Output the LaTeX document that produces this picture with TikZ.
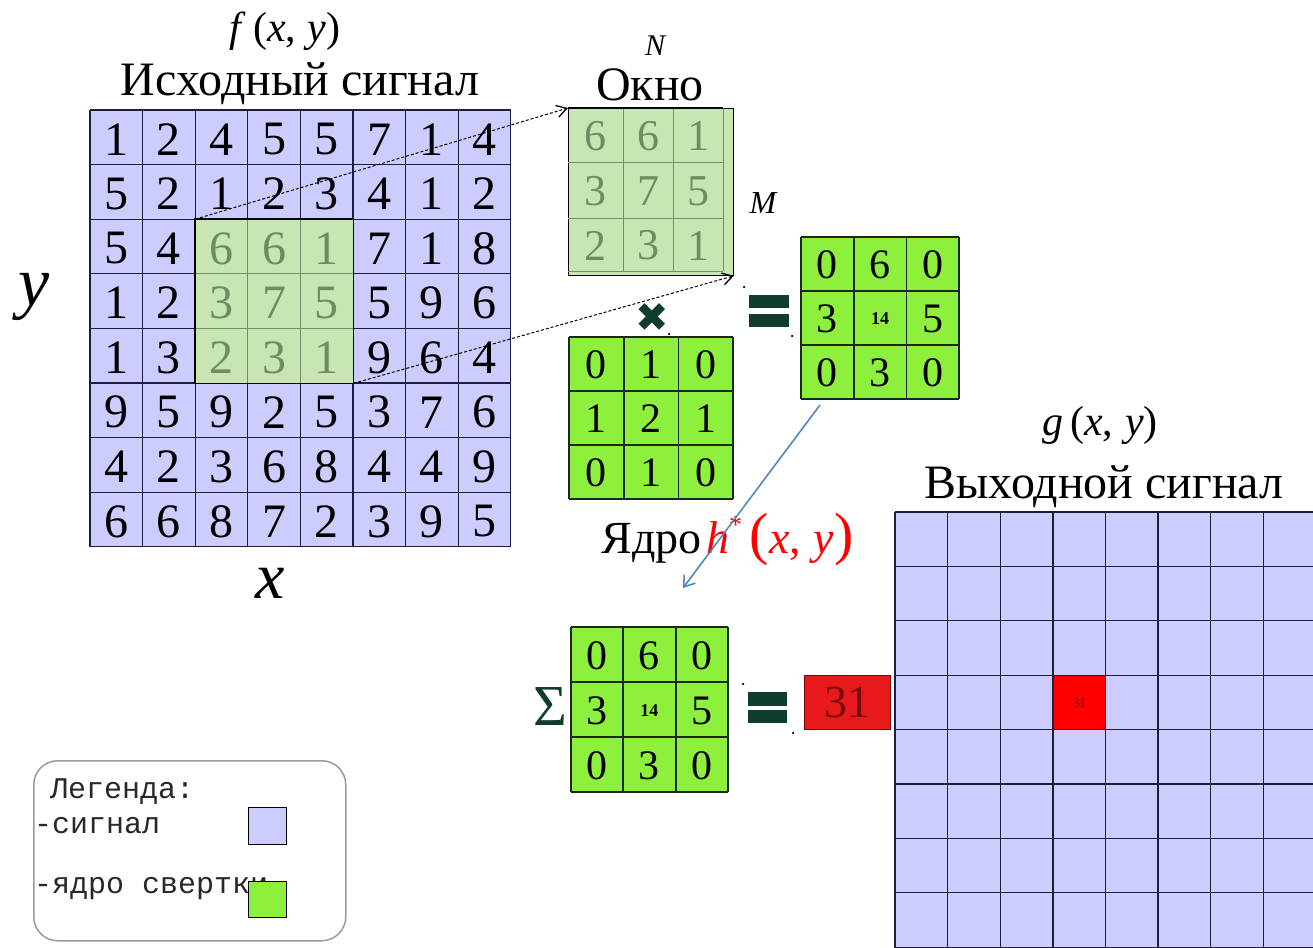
\documentclass[tikz,border=0pt]{standalone}
\usepackage{fontspec}
\setmainfont{Liberation Serif}
\newfontfamily\legfont{Liberation Mono}
\newfontfamily\symfont{DejaVu Sans}
\usetikzlibrary{arrows.meta}
\definecolor{lav}{RGB}{204,204,255}
\definecolor{wgreen}{RGB}{200,230,180}
\definecolor{kgreen}{RGB}{140,240,60}
\definecolor{gline}{RGB}{30,30,60}
\definecolor{kline}{RGB}{25,40,25}
\definecolor{wdig}{RGB}{110,140,95}
\definecolor{wline}{RGB}{115,145,105}
\definecolor{dgreen}{RGB}{15,60,45}
\definecolor{rbox}{RGB}{232,25,26}
\definecolor{rtxt}{RGB}{120,10,10}
\definecolor{barrow}{RGB}{79,129,189}
\definecolor{legb}{RGB}{150,155,170}
\definecolor{legt}{RGB}{40,40,40}
\newcommand\mysz[1]{\fontsize{#1}{#1}\selectfont}
\newcommand\smf[1]{{\mysz{18}\bfseries #1}}
\newcommand\tgrid[6]{%
  \fill[kgreen] (#2,#3) rectangle ++({3*#4},{3*#5});
  \foreach \i in {0,...,3}{%
    \draw[kl] ({#2+#4*\i},#3) -- ++(0,{3*#5});
    \draw[kl] (#2,{#3+#5*\i}) -- ++({3*#4},0);}
  \foreach \row [count=\r from 0] in {#6}{%
    \foreach \v [count=\c from 0] in \row {%
      \node[kdig] (#1-\r-\c) at ({#2+#4*(\c+0.5)},{#3+#5*(\r+0.5)+1}) {\v};}}
}
\begin{document}
\begin{tikzpicture}[x=1pt,y=-1pt,
  gl/.style={gline,line width=1.3pt},
  kl/.style={kline,line width=1.8pt},
  dig/.style={inner sep=0pt,font=\mysz{48}},
  kdig/.style={inner sep=0pt,font=\mysz{42}},
  title/.style={inner sep=0pt,font=\mysz{48}},
  fxy/.style={inner sep=0pt,font=\mysz{42}},
  dash arrow/.style={densely dashed,line width=1pt,-{Straight Barb[length=10pt,width=12pt,line width=1.3pt]}},
  dotm/.style={fill=black,circle,inner sep=0pt,minimum size=2.5pt},
  legtxt/.style={inner sep=0pt,anchor=base west,text=legt,font=\legfont\mysz{30}},
  legsq/.style={draw=black,line width=1.3pt}]
\useasboundingbox (0,0) rectangle (1313,947);
\fill[white] (0,0) rectangle (1313,947);

% ---------- input signal ----------
\node[fxy] (ftitle) at (285,31) {\textit{f}\,(\textit{x},\;\textit{y})};
\node[title] (intitle) at (300,84) {Исходный сигнал};
\node[inner sep=0pt,minimum width=420.8pt,minimum height=436.8pt,anchor=north west,fill=lav] (inp) at (90,110) {};
\foreach \i in {0,...,8}{%
  \draw[gl] ({90+52.6*\i},110) -- ({90+52.6*\i},546.8);
  \draw[gl] (90,{110+54.6*\i}) -- (510.8,{110+54.6*\i});}
\node[inner sep=0pt,minimum width=157.8pt,minimum height=163.8pt,anchor=north west,fill=wgreen] (win) at (195.2,219.2) {};
\foreach \i in {1,2}{%
  \draw[wline,line width=1pt] ({195.2+52.6*\i},219.2) -- ++(0,163.8);
  \draw[wline,line width=1pt] (195.2,{219.2+54.6*\i}) -- ++(157.8,0);}
\draw[black,line width=1.6pt] (win.north west) rectangle (win.south east);
\foreach \row [count=\r from 0] in {{1,2,4,5,5,7,1,4},{5,2,1,2,3,4,1,2},{5,4,6,6,1,7,1,8},{1,2,3,7,5,5,9,6},{1,3,2,3,1,9,6,4},{9,5,9,2,5,3,7,6},{4,2,3,6,8,4,4,9},{6,6,8,7,2,3,9,5}}{%
  \foreach \v [count=\c from 0] in \row {%
    \pgfmathtruncatemacro\ing{(\r>1)&&(\r<5)&&(\c>1)&&(\c<5)}%
    \ifnum\ing=1 \def\dc{wdig}\else\def\dc{black}\fi
    \node[dig,text=\dc] (in-\r-\c) at ({90+52.6*(\c+0.5)},{110+54.6*(\r+0.5)+2}) {\v};}}
\node[inner sep=0pt,font=\itshape\mysz{70}] (ylab) at (34,297) {y};
\node[inner sep=0pt,font=\itshape\mysz{66}] (xlab) at (270,583) {x};

% ---------- window ----------
\node[inner sep=0pt,font=\itshape\mysz{30}] (nlab) at (655,46) {N};
\node[title] (okt) at (650,85) {Окно};
\node[inner sep=0pt,minimum width=165pt,minimum height=167pt,anchor=north west,fill=wgreen,draw=black,line width=0.8pt] (okno) at (568,108) {};
\foreach \xx in {623,673,723}{\draw[wline,line width=1pt] (\xx,108) -- (\xx,271);}
\foreach \yy in {162,218,271}{\draw[wline,line width=1pt] (568,\yy) -- (723,\yy);}
\draw[black,line width=2pt] (568,108) -- (723,108);
\foreach \row [count=\r from 0] in {{6,6,1},{3,7,5},{2,3,1}}{%
  \foreach \v [count=\c from 0] in \row {%
    \pgfmathsetmacro\cx{{595.5,648,698}[\c]}%
    \pgfmathsetmacro\cy{{136,191,245.5}[\r]}%
    \node[inner sep=0pt,font=\mysz{44},text=wdig] (ok-\r-\c) at (\cx,\cy) {\v};}}
\node[inner sep=0pt,font=\itshape\mysz{32}] (mlab) at (763,203) {M};
\draw[dash arrow] (win.north west) -- (okno.north west);
\draw[dash arrow] (win.south east) -- (okno.south east);

% ---------- kernel and product ----------
\node[inner sep=0pt,text=dgreen,font=\symfont\mysz{40}] (times) at (652,318) {✖};
\tgrid{ker}{569}{337}{54.7}{54}{{0,1,0},{1,2,1},{0,1,0}}
\fill[dgreen] (749,295) rectangle (789,308);
\fill[dgreen] (749,314) rectangle (789,327);
\tgrid{res}{801}{237}{52.7}{54}{{0,6,0},{3,\smf{14},5},{0,3,0}}
\node[inner sep=0pt,anchor=base east,font=\mysz{46}] (kerlab) at (702,553) {Ядро};
\node[inner sep=0pt,anchor=base west,text=red,font=\mysz{46}] (hlab) at (706,553) {\textit{h}\raisebox{0.42em}{\mysz{26}*}\,{\mysz{58}(}\textit{x},\;\textit{y}{\mysz{58})}};
\coordinate (bs) at (820,405);
\coordinate (be) at (683,588);
\draw[barrow,line width=1.5pt,-{Straight Barb[length=10pt,width=14pt,line width=1.5pt]}] (bs) -- (be);

% ---------- sum ----------
\node[inner sep=0pt,text=dgreen,font=\mysz{58}] (sigma) at (550,707) {Σ};
\tgrid{sum}{571}{627}{52.3}{55}{{0,6,0},{3,\smf{14},5},{0,3,0}}
\fill[dgreen] (748,692) rectangle (787,706);
\fill[dgreen] (748,710) rectangle (787,723);
\node[inner sep=0pt,minimum width=86pt,minimum height=54pt,anchor=north west,fill=rbox,draw=rtxt,line width=0.6pt,text=rtxt,font=\mysz{46}] (rsum) at (804,675) {31};

% small dots
\foreach \p [count=\k] in {(744,287),(792,336),(669,334),(743,684),(793,733)}{\node[dotm] (dot\k) at \p {};}

% ---------- output ----------
\node[fxy] (gtitle) at (1100,425) {\textit{g}\,(\textit{x},\;\textit{y})};
\node[title] (outtitle) at (1104,487) {Выходной сигнал};
\begin{scope}
\clip (0,0) rectangle (1313,947);
\fill[lav] (895,512) rectangle (1400,1010);
\node[inner sep=0pt,minimum width=52.6pt,minimum height=54.4pt,anchor=north west,fill=red,text=rtxt,font=\mysz{14}] (outc) at (1052.8,675.2) {31};
\foreach \i in {0,...,9}{%
  \draw[gl] ({895+52.6*\i},512) -- ({895+52.6*\i},1010);
  \draw[gl] (895,{512+54.4*\i}) -- (1400,{512+54.4*\i});}
\draw[gline,line width=2.6pt] (1052.8,512) -- (1052.8,1010);
\end{scope}

% ---------- legend ----------
\node[draw=legb,line width=1.5pt,rounded corners=24pt,minimum width=312pt,minimum height=180pt,anchor=north west,inner sep=0pt] (legend) at (33,760) {};
\node[legtxt] (leg1) at (50,798) {Легенда:};
\node[legtxt] (leg2) at (34,833) {-сигнал};
\node[legtxt] (leg3) at (34,893) {-ядро свертки};
\node[legsq,fill=lav,minimum width=38pt,minimum height=37pt,inner sep=0pt,anchor=north west] (sq1) at (248,807) {};
\node[legsq,fill=kgreen,minimum width=38pt,minimum height=36pt,inner sep=0pt,anchor=north west] (sq2) at (248,881) {};
\end{tikzpicture}
\end{document}
